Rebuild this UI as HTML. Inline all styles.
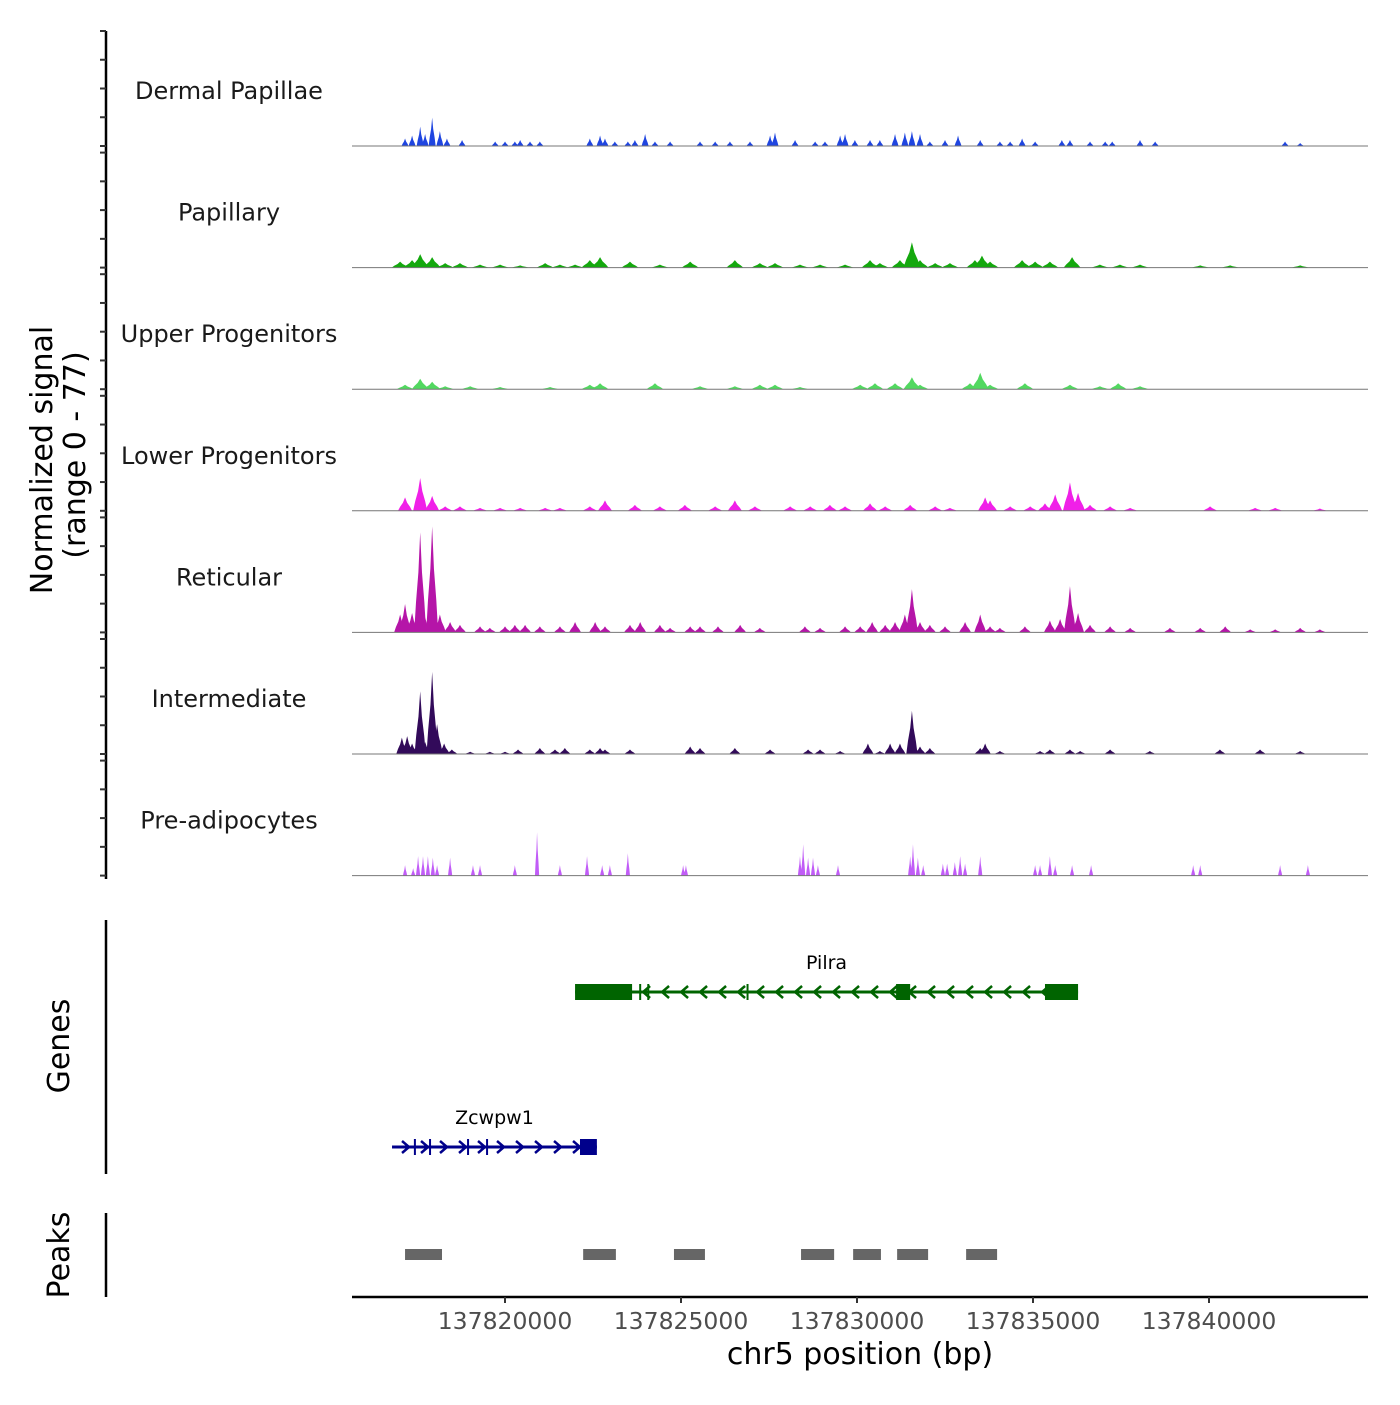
<!DOCTYPE html>
<html><head><meta charset="utf-8"><style>
body{margin:0;background:#fff}
svg text{font-family:"DejaVu Sans","Liberation Sans",sans-serif}
</style></head><body>
<svg id="c" width="1400" height="1400" viewBox="0 0 1400 1400" xmlns="http://www.w3.org/2000/svg"></svg>
<script>
const trackNames=["Dermal Papillae","Papillary","Upper Progenitors","Lower Progenitors","Reticular","Intermediate","Pre-adipocytes"];
const trackColors=["#1f45e0","#14a80e","#52d860","#f020e8","#b515a8","#320a5a","#c15cf7"];
const trackHalfWidth=[0.1,0.24,0.24,0.2,0.17,0.16,0.06];
const xTicks=[137820000,137825000,137830000,137835000,137840000];
const xTickLabels=["137820000","137825000","137830000","137835000","137840000"];
const dermalPapillae=[[137817.16,5],[137817.36,7],[137817.59,13],[137817.73,8],[137817.93,19],[137818.15,10],[137818.35,5],[137818.78,4],[137819.72,3],[137820.00,3],[137820.28,3],[137820.43,4],[137820.71,3],[137820.99,3],[137822.41,5],[137822.70,7],[137822.84,5],[137823.12,3],[137823.49,3],[137823.69,4],[137823.98,8],[137824.26,3],[137824.69,3],[137825.54,3],[137825.97,3],[137826.39,3],[137826.96,3],[137827.53,7],[137827.67,9],[137828.24,4],[137828.81,3],[137829.09,3],[137829.52,7],[137829.66,8],[137829.94,4],[137830.37,4],[137830.65,4],[137831.08,8],[137831.36,9],[137831.56,10],[137831.79,8],[137832.07,3],[137832.50,4],[137832.87,7],[137833.50,4],[137834.06,3],[137834.35,3],[137834.69,5],[137835.06,3],[137835.82,4],[137836.05,4],[137836.62,3],[137837.05,3],[137837.25,3],[137838.04,4],[137838.47,3],[137842.16,3],[137842.59,2]];
const papillary=[[137817.02,4],[137817.36,5],[137817.59,9],[137817.93,7],[137818.30,3],[137818.72,3],[137819.29,2],[137819.86,2],[137820.43,1.5],[137821.14,3],[137821.56,2],[137821.99,2],[137822.41,5],[137822.70,7],[137823.55,4],[137824.40,2],[137825.26,4],[137826.53,5],[137827.24,3],[137827.67,3],[137828.38,2],[137828.95,2],[137829.66,2],[137830.37,5],[137830.65,3],[137831.22,5],[137831.56,17],[137831.79,5],[137832.22,3],[137832.64,3],[137833.35,5],[137833.55,8],[137833.78,4],[137834.69,5],[137835.06,4],[137835.48,4],[137836.11,7],[137836.90,2],[137837.47,2],[137838.04,2],[137839.75,1.5],[137840.60,1.5],[137842.59,1.5]];
const upperProgenitors=[[137817.16,3],[137817.59,7],[137817.93,5],[137818.30,2],[137819.01,2],[137819.86,1.5],[137821.28,1.5],[137822.41,3],[137822.70,4],[137824.26,4],[137825.54,2],[137826.53,2],[137827.24,3],[137827.67,3],[137828.38,1.5],[137830.09,3],[137830.51,4],[137831.08,4],[137831.56,8],[137831.79,3],[137833.21,4],[137833.50,11],[137833.78,3],[137834.77,4],[137836.05,3],[137836.90,2],[137837.42,4],[137838.04,2]];
const lowerProgenitors=[[137817.16,9],[137817.59,22],[137817.93,10],[137818.30,3],[137818.72,3],[137819.29,2],[137819.86,2],[137820.43,2],[137821.14,2],[137821.56,2],[137822.41,3],[137822.84,7],[137823.69,4],[137824.40,3],[137825.11,4],[137825.97,3],[137826.53,7],[137827.10,3],[137828.10,3],[137828.67,3],[137829.23,4],[137829.66,3],[137830.37,5],[137830.80,3],[137831.51,4],[137832.22,3],[137832.64,2],[137833.64,9],[137833.78,7],[137834.35,3],[137834.92,3],[137835.34,5],[137835.63,11],[137836.05,19],[137836.28,12],[137836.62,4],[137837.19,3],[137837.76,2],[137840.03,3],[137841.31,2],[137841.88,2],[137843.15,1.5]];
const reticular=[[137817.02,12],[137817.16,19],[137817.36,13],[137817.59,67],[137817.73,10],[137817.93,71],[137818.15,12],[137818.44,7],[137818.72,5],[137819.29,4],[137819.57,3],[137820.00,4],[137820.28,5],[137820.57,5],[137820.99,4],[137821.56,4],[137821.99,7],[137822.56,7],[137822.84,4],[137823.55,5],[137823.84,7],[137824.40,5],[137824.69,3],[137825.26,4],[137825.54,4],[137826.05,4],[137826.68,5],[137827.24,3],[137828.52,4],[137828.95,3],[137829.66,4],[137830.09,4],[137830.43,7],[137830.80,5],[137831.08,7],[137831.36,12],[137831.56,29],[137831.79,7],[137832.07,5],[137832.50,4],[137833.07,7],[137833.50,12],[137833.78,4],[137834.06,3],[137834.77,4],[137835.48,8],[137835.77,9],[137836.05,31],[137836.28,13],[137836.62,5],[137837.19,4],[137837.76,3],[137838.89,3],[137839.75,3],[137840.46,4],[137841.17,2],[137841.88,2],[137842.59,3],[137843.15,2]];
const intermediate=[[137817.07,11],[137817.22,12],[137817.36,7],[137817.59,42],[137817.73,8],[137817.93,55],[137818.07,20],[137818.27,7],[137818.49,3],[137819.01,1.5],[137819.57,1.5],[137820.00,1.5],[137820.37,3],[137820.99,4],[137821.42,3],[137821.70,4],[137822.41,3],[137822.70,4],[137822.84,3],[137823.55,3],[137825.26,5],[137825.54,4],[137826.53,4],[137827.53,3],[137828.61,3],[137828.95,3],[137829.52,2],[137830.31,7],[137830.65,2],[137830.94,7],[137831.22,7],[137831.56,29],[137831.79,5],[137832.07,4],[137833.50,4],[137833.64,7],[137834.06,2],[137835.20,2],[137835.48,3],[137836.05,3],[137836.34,2],[137837.19,3],[137838.32,2],[137840.31,3],[137841.45,3],[137842.59,2]];
const preAdipocytes=[[137817.16,7],[137817.39,5],[137817.53,13],[137817.67,13],[137817.81,13],[137817.95,12],[137818.07,7],[137818.44,12],[137819.09,7],[137819.29,7],[137820.28,7],[137820.91,29],[137821.56,7],[137822.33,13],[137822.76,7],[137822.98,7],[137823.49,15],[137825.06,7],[137825.14,7],[137828.38,13],[137828.47,21],[137828.61,12],[137828.75,12],[137828.89,7],[137829.46,7],[137831.51,13],[137831.59,21],[137831.73,12],[137831.88,7],[137832.44,8],[137832.56,8],[137832.78,9],[137832.93,13],[137833.07,8],[137833.50,13],[137835.06,7],[137835.20,7],[137835.48,13],[137835.63,7],[137836.11,7],[137836.65,7],[137839.55,7],[137839.75,7],[137842.02,7],[137842.81,7]];
const trackData=[dermalPapillae,papillary,upperProgenitors,lowerProgenitors,reticular,intermediate,preAdipocytes];
const yMax=77;
const genes=[
 {name:"Pilra",start:137821.99,end:137836.28,strand:-1,exons:[[137821.99,137823.61],[137831.11,137831.51],[137835.34,137836.28]],marks:[137823.84,137824.07,137826.89],row:0,color:"#006400"},
 {name:"Zcwpw1",start:137816.79,end:137822.61,strand:1,exons:[[137822.13,137822.61]],marks:[137817.44,137817.87,137818.95,137819.49],row:1,color:"#00008b"}];
const peaks=[[137817.16,137818.21],[137822.22,137823.15],[137824.80,137825.68],[137828.41,137829.35],[137829.89,137830.68],[137831.14,137832.02],[137833.10,137833.98]];

const X0=352,X1=1368,D0=137815653,D1=137844517;
const xs=bp=>X0+(bp-D0)/(D1-D0)*(X1-X0);
const xk=kb=>xs(kb*1000);
const svg=document.getElementById('c');const NS="http://www.w3.org/2000/svg";
function mk(t,a,p){const e=document.createElementNS(NS,t);for(const k in a)e.setAttribute(k,a[k]);(p||svg).appendChild(e);return e;}
const panelTop=i=>31+121.6*i, panelH=115;
const ax=mk('line',{x1:106,y1:31,x2:106,y2:879,stroke:'#000','stroke-width':2.5});


for(let i=0;i<7;i++){
 const g=mk('g',{});
 
 
 const top=panelTop(i),base=top+panelH;
 for(let t=0;t<=4;t++){const y=top+panelH*t/4;mk('line',{x1:100,y1:y,x2:106,y2:y,stroke:'#333','stroke-width':2},g);}
 const ys=v=>base-v/yMax*panelH;
 const hw=trackHalfWidth[i];
 trackData[i].forEach(([p,v])=>{
   const pk=mk('polygon',{points:`${xk(p-hw)},${base} ${xk(p-hw*0.7)},${ys(v*0.3)} ${xk(p-hw*0.3)},${ys(v*0.6)} ${xk(p)},${ys(v)} ${xk(p+hw*0.3)},${ys(v*0.6)} ${xk(p+hw*0.7)},${ys(v*0.3)} ${xk(p+hw)},${base}`,fill:trackColors[i]},g);
   
   
 });
 mk('line',{x1:X0,y1:base,x2:X1,y2:base,stroke:'#777','stroke-width':1},g);
 const tl=mk('text',{x:229,y:base-47,'text-anchor':'middle','font-size':24,fill:'#1a1a1a'},g);tl.textContent=trackNames[i];
 
 
}
const yt=mk('text',{transform:'translate(52,460) rotate(-90)','text-anchor':'middle','font-size':30});yt.textContent='Normalized signal';


const yt2=mk('text',{transform:'translate(85,455) rotate(-90)','text-anchor':'middle','font-size':30});yt2.textContent='(range 0 - 77)';


const ga=mk('line',{x1:106,y1:920,x2:106,y2:1174,stroke:'#000','stroke-width':2.5});


const gt=mk('text',{transform:'translate(69,1046) rotate(-90)','text-anchor':'middle','font-size':30});gt.textContent='Genes';


genes.forEach(gn=>{
 const g=mk('g',{});
 
 
 const y=gn.row===0?992:1147;
 mk('line',{x1:xk(gn.start),y1:y,x2:xk(gn.end),y2:y,stroke:gn.color,'stroke-width':3},g);
 for(let x=xk(gn.start)+14;x<xk(gn.end)-8;x+=19){
   const d=gn.strand>0?`M${x-4},${y-6} L${x+3},${y} L${x-4},${y+6}`:`M${x+4},${y-6} L${x-3},${y} L${x+4},${y+6}`;
   mk('path',{d,stroke:gn.color,'stroke-width':2.5,fill:'none'},g);
 }
 gn.marks.forEach(m=>mk('line',{x1:xk(m),y1:y-8,x2:xk(m),y2:y+8,stroke:gn.color,'stroke-width':2},g));
 gn.exons.forEach(([a,b])=>mk('rect',{x:xk(a),y:y-8,width:xk(b)-xk(a),height:16,fill:gn.color},g));
 const lt=mk('text',{x:xk((gn.start+gn.end)/2),y:y-23,'text-anchor':'middle','font-size':19,fill:'#000'},g);lt.textContent=gn.name;
});
const pa=mk('line',{x1:106,y1:1213,x2:106,y2:1297,stroke:'#000','stroke-width':2.5});


const pt=mk('text',{transform:'translate(69,1255) rotate(-90)','text-anchor':'middle','font-size':30});pt.textContent='Peaks';


peaks.forEach(([a,b])=>{const r=mk('rect',{x:xk(a),y:1249,width:xk(b)-xk(a),height:11,fill:'#666'});
 
 });
const xa=mk('line',{x1:X0,y1:1297,x2:X1,y2:1297,stroke:'#000','stroke-width':2.5});


xTicks.forEach((t,i)=>{const x=xs(t);mk('line',{x1:x,y1:1297,x2:x,y2:1303,stroke:'#333','stroke-width':2});
 const tx=mk('text',{x,y:1329,'text-anchor':'middle','font-size':23.5,fill:'#4d4d4d'});tx.textContent=xTickLabels[i];
 
 });
const xt=mk('text',{x:860,y:1364,'text-anchor':'middle','font-size':30});xt.textContent='chr5 position (bp)';


</script>
</body></html>
